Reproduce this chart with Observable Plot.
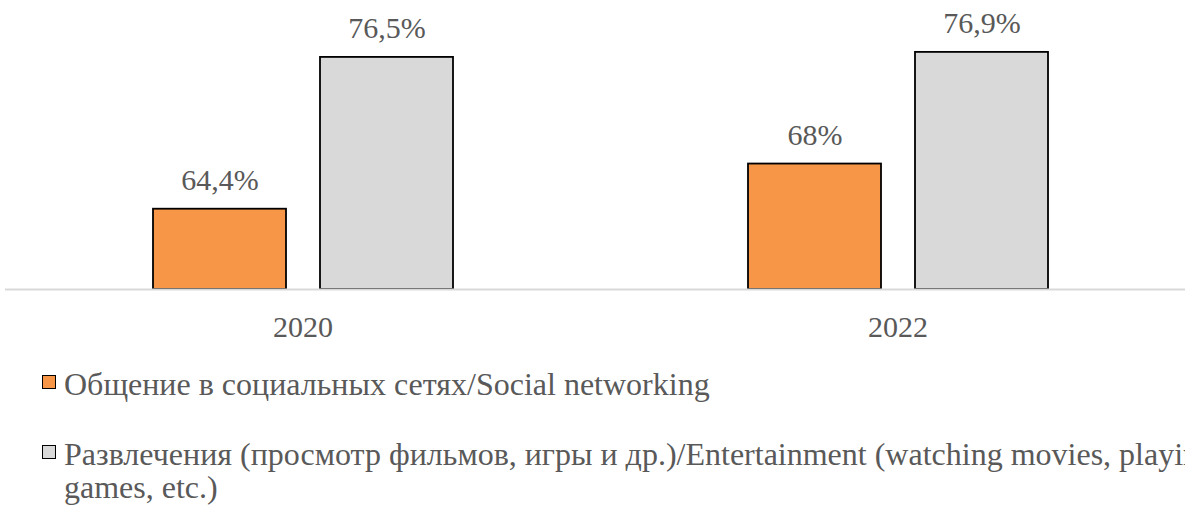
<!DOCTYPE html>
<html>
<head>
<meta charset="utf-8">
<script src="https://cdn.jsdelivr.net/npm/d3@7"></script>
<script src="https://cdn.jsdelivr.net/npm/@observablehq/plot@0.6"></script>
<style>
  html, body { margin: 0; padding: 0; background: #fff; overflow: hidden; width: 1185px; height: 505px; }
  #chart svg { display: block; }
  .legend { font-family: "Liberation Serif", "Times New Roman", serif; font-size: 32px; color: #595959; line-height: 33px; width: 1300px; }
  .item { display: flex; align-items: flex-start; margin-left: 42px; }
  .sw { width: 12px; height: 12px; border: 1.5px solid #000; margin-top: 7px; margin-right: 8px; flex: none; }
</style>
</head>
<body>
<div id="chart"></div>
<div class="legend">
  <div class="item" id="item0" style="margin-top:18px"></div>
  <div class="item" id="item1" style="margin-top:37px"></div>
</div>
<script>
const years = ["2020", "2022"];
const seriesNames = [
  "Общение в социальных сетях/Social networking",
  "Развлечения (просмотр фильмов, игры и др.)/Entertainment (watching movies, playing games, etc.)"
];
const seriesShort = ["social", "entertainment"];
const social = [64.4, 68];
const entertainment = [76.5, 76.9];
const colors = ["#F79646", "#D9D9D9"];

const data = [];
years.forEach((y, i) => {
  data.push({year: y, series: seriesShort[0], value: social[i]});
  data.push({year: y, series: seriesShort[1], value: entertainment[i]});
});
const fmt = v => String(v).replace(".", ",") + "%";
const font = '"Liberation Serif", "Times New Roman", serif';

const chart = Plot.plot({
  width: 1185,
  height: 350,
  marginTop: 13,
  marginBottom: 61,
  marginLeft: 5,
  marginRight: -10,
  style: {fontFamily: font, fontSize: "30px", color: "#595959", background: "#fff"},
  fx: {domain: years, paddingInner: 0, paddingOuter: 0, label: null},
  x: {domain: seriesShort, paddingInner: 0.2036, paddingOuter: 0.883, axis: null},
  y: {domain: [58, 80], axis: null},
  color: {domain: seriesShort, range: colors},
  marks: [
    Plot.barY(data, {fx: "year", x: "series", y1: 58, y2: "value", fill: "series", stroke: "#000", strokeWidth: 1.8}),
    Plot.ruleY([58], {stroke: "#d9d9d9", strokeWidth: 2}),
    Plot.text(data, {fx: "year", x: "series", y: "value", text: d => fmt(d.value), lineAnchor: "bottom", dy: -19, fill: "#595959", fontSize: 30, fontFamily: font}),
    Plot.axisFx({anchor: "bottom", tickSize: 0, tickPadding: 26, fontSize: 30, fill: "#595959", fontFamily: font, label: null})
  ]
});
document.getElementById("chart").appendChild(chart);

function legendItem(el, color, html) {
  const sw = document.createElement("div");
  sw.className = "sw";
  sw.style.background = color;
  const t = document.createElement("div");
  t.innerHTML = html;
  t.style.whiteSpace = "nowrap";
  el.appendChild(sw);
  el.appendChild(t);
}
legendItem(document.getElementById("item0"), colors[0], seriesNames[0]);
legendItem(document.getElementById("item1"), colors[1],
  seriesNames[1].replace(" games, etc.)", "<br>games, etc.)"));
</script>
</body>
</html>
